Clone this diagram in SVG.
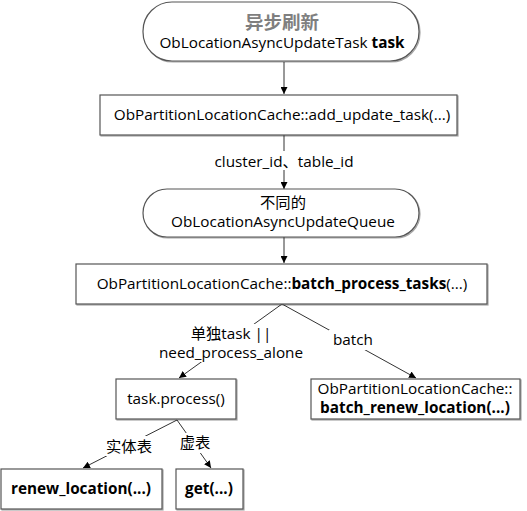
<svg xmlns="http://www.w3.org/2000/svg" width="527" height="511" viewBox="0 0 527 511">
<defs>
<marker id="arr" viewBox="0 0 10 10" refX="10" refY="5" markerWidth="7" markerHeight="7" orient="auto-start-reverse" markerUnits="userSpaceOnUse">
<path d="M0,0 L10,5 L0,10 z" fill="#000"/>
</marker>
<filter id="sh" x="-5%" y="-5%" width="110%" height="120%">
<feDropShadow dx="1" dy="1" stdDeviation="0.6" flood-color="#000" flood-opacity="0.35"/>
</filter>
</defs>
<style>
.n{fill:#fff;stroke:#555;stroke-width:1.2;filter:url(#sh)}
.t{font-family:"Open Sans","Noto Sans CJK SC",sans-serif;font-size:15.3px;fill:#000;text-anchor:middle}
.b{font-weight:bold}
.e{stroke:#333;stroke-width:1;fill:none;marker-end:url(#arr)}
.l{stroke:#333;stroke-width:1;fill:none}
</style>
<rect width="527" height="511" fill="#fff"/>
<g id="edges">
<line class="e" x1="284" y1="62" x2="284" y2="94"/>
<line class="l" x1="284" y1="135" x2="284" y2="151"/>
<line class="e" x1="284" y1="170" x2="284" y2="189"/>
<line class="e" x1="284" y1="237" x2="284" y2="263"/>
<polyline class="e" points="282,304 179,378"/>
<polyline class="e" points="282,304 416,378"/>
<polyline class="e" points="177,420 83,468"/>
<polyline class="e" points="177,420 211,468"/>
<rect x="152" y="324" width="158" height="38" fill="#fff"/>
<rect x="329" y="330" width="48" height="20" fill="#fff"/>
<rect x="103" y="436" width="52" height="20" fill="#fff"/>
<rect x="178" y="433" width="34" height="20" fill="#fff"/>
<text class="t" x="284" y="167">cluster_id、table_id</text>
<text class="t" x="231" y="339">单独task ||</text>
<text class="t" x="231" y="358">need_process_alone</text>
<text class="t" x="353" y="345">batch</text>
<text class="t" x="129" y="452">实体表</text>
<text class="t" x="195" y="448">虚表</text>
</g>
<g id="n1">
<rect class="n" x="143" y="2" width="276" height="59" rx="29" ry="29"/>
<text class="t b" x="282" y="29" style="fill:#7f7f7f;font-size:18.5px">异步刷新</text>
<text class="t" x="282" y="48">ObLocationAsyncUpdateTask <tspan class="b">task</tspan></text>
</g>
<g id="n2">
<rect class="n" x="100" y="95" width="357" height="40"/>
<text class="t" x="282" y="120">ObPartitionLocationCache::add_update_task(...)</text>
</g>
<g id="n3">
<rect class="n" x="143" y="189" width="276" height="48" rx="24" ry="24"/>
<text class="t" x="283" y="208">不同的</text>
<text class="t" x="283" y="227">ObLocationAsyncUpdateQueue</text>
</g>
<g id="n4">
<rect class="n" x="76" y="264" width="411" height="40"/>
<text class="t" x="282" y="289">ObPartitionLocationCache::<tspan class="b">batch_process_tasks</tspan>(...)</text>
</g>
<g id="n5">
<rect class="n" x="116" y="379" width="120" height="40"/>
<text class="t" x="176" y="404">task.process()</text>
</g>
<g id="n6">
<rect class="n" x="311" y="379" width="209" height="40"/>
<text class="t" x="415" y="394">ObPartitionLocationCache::</text>
<text class="t b" x="415" y="413">batch_renew_location(...)</text>
</g>
<g id="n7">
<rect class="n" x="1" y="469" width="161" height="40"/>
<text class="t b" x="81" y="494">renew_location(...)</text>
</g>
<g id="n8">
<rect class="n" x="176" y="469" width="67" height="40"/>
<text class="t b" x="209" y="494">get(...)</text>
</g>
</svg>
